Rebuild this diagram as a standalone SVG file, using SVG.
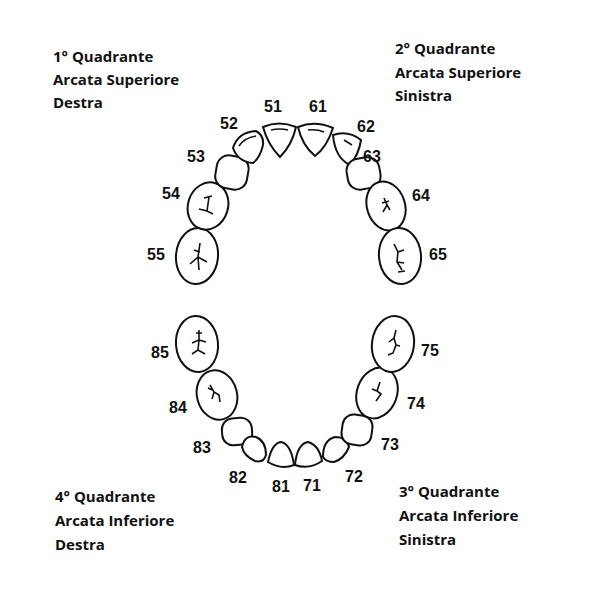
<svg xmlns="http://www.w3.org/2000/svg" width="600" height="600" viewBox="0 0 600 600">
<style>
.t{fill:#fff;stroke:#111;stroke-width:2}
.f{fill:none;stroke:#111;stroke-width:1.6}
.n{font-family:"Liberation Sans",Arial,sans-serif;font-weight:bold;font-size:16px;fill:#111;text-anchor:middle}
.q{font-family:"Open Sans","Liberation Sans",sans-serif;font-weight:bold;font-size:15px;fill:#111}
</style>
<rect width="600" height="600" fill="#fff"/>
<g id="upper">
<g id="t55"><ellipse class="t" cx="197" cy="256" rx="21" ry="28" transform="rotate(5 197 256)"/><path class="f" d="M200 243 L198 257 L190 264 M198 257 L207 262 M198 257 L199 270 M194 250 L200 252"/></g>
<g id="t54"><ellipse class="t" cx="208" cy="206" rx="20" ry="24" transform="rotate(18 208 206)"/><path class="f" d="M204 198 L212 196 M209 197 L207 211 M199 209 L207 211 L213 214"/></g>
<g id="t53"><rect class="t" x="216" y="156" width="32" height="33" rx="12" transform="rotate(10 232 172)"/></g>
<g id="t52"><path class="t" d="M233 148 Q238 132 256 131 Q264 135 263 145 Q260 158 253 163 Q238 162 233 148 Z"/><path class="f" d="M239 146 Q244 138 256 136"/></g>
<g id="t51"><path class="t" d="M263 127 Q279 120 296 127 Q292 145 280 157 Q268 145 263 127 Z"/><path class="f" d="M271 130 Q280 128 288 130"/></g>
<g id="t61"><path class="t" d="M298 127 Q315 120 333 128 Q327 147 315 156 Q302 145 298 127 Z"/><path class="f" d="M308 130 Q317 129 324 132"/></g>
<g id="t62"><path class="t" d="M333 135 Q348 130 361 140 Q359 154 350 165 Q335 158 333 135 Z"/><path class="f" d="M344 140 L352 145"/></g>
<g id="t63"><rect class="t" x="347" y="158" width="33" height="31" rx="12" transform="rotate(-10 363 173)"/></g>
<g id="t64"><ellipse class="t" cx="386" cy="206" rx="19" ry="25" transform="rotate(-18 386 206)"/><path class="f" d="M384 198 L387 205 L383 212 M387 205 L390 210 M382 203 L389 201"/></g>
<g id="t65"><ellipse class="t" cx="400" cy="256" rx="21" ry="28" transform="rotate(-5 400 256)"/><path class="f" d="M394 244 L398 252 L397 262 L402 270 M398 252 L404 250 M397 262 L404 263 M398 272 L405 271"/></g>
</g>
<g id="lower">
<g id="t85"><ellipse class="t" cx="197" cy="344" rx="21" ry="28" transform="rotate(-5 197 344)"/><path class="f" d="M199 330 L199 340 L192 343 M199 340 L206 342 M196 333 L202 333 M199 340 L198 350 L192 354 M198 350 L205 354"/></g>
<g id="t84"><ellipse class="t" cx="217" cy="395" rx="20" ry="25" transform="rotate(-15 217 395)"/><path class="f" d="M210 385 L214 392 L212 399 M214 392 L219 395 L220 402 M208 388 L212 390"/></g>
<g id="t83"><rect class="t" x="222" y="418" width="30" height="27" rx="11" transform="rotate(-5 237 431)"/></g>
<g id="t82"><path class="t" d="M242 447 Q245 434 256 437 Q266 441 266 455 Q264 463 255 461 Q244 456 242 447 Z"/></g>
<g id="t81"><path class="t" d="M268 462 Q272 443 281 442 Q291 444 294 465 Q281 470 268 462 Z"/></g>
<g id="t71"><path class="t" d="M295 465 Q297 444 308 442 Q319 445 322 461 Q309 470 295 465 Z"/></g>
<g id="t72"><path class="t" d="M323 457 Q323 440 335 437 Q347 437 349 447 Q344 459 334 462 Q326 462 323 457 Z"/></g>
<g id="t73"><rect class="t" x="342" y="415" width="30" height="30" rx="11" transform="rotate(8 357 430)"/></g>
<g id="t74"><ellipse class="t" cx="377" cy="393" rx="20" ry="26" transform="rotate(20 377 393)"/><path class="f" d="M380 382 L377 391 L381 394 L376 401 M372 389 L377 391"/></g>
<g id="t75"><ellipse class="t" cx="393" cy="344" rx="21" ry="28" transform="rotate(8 393 344)"/><path class="f" d="M396 330 L394 338 L389 342 M394 338 L396 345 L393 353 L388 355 M396 345 L400 346"/></g>
</g>
<g id="numbers">
<text class="n" x="273" y="112">51</text><text class="n" x="318" y="112">61</text>
<text class="n" x="229" y="129">52</text><text class="n" x="366" y="132">62</text>
<text class="n" x="196" y="162">53</text><text class="n" x="372" y="162">63</text>
<text class="n" x="171" y="199">54</text><text class="n" x="421" y="201">64</text>
<text class="n" x="156" y="260">55</text><text class="n" x="438" y="260">65</text>
<text class="n" x="160" y="358">85</text><text class="n" x="430" y="356">75</text>
<text class="n" x="178" y="413">84</text><text class="n" x="416" y="409">74</text>
<text class="n" x="202" y="453">83</text><text class="n" x="390" y="450">73</text>
<text class="n" x="238" y="483">82</text><text class="n" x="354" y="482">72</text>
<text class="n" x="281" y="492">81</text><text class="n" x="312" y="491">71</text>
</g>
<g id="quadrants">
<text class="q" x="53" y="62">1° Quadrante</text><text class="q" x="53" y="85">Arcata Superiore</text><text class="q" x="53" y="108">Destra</text>
<text class="q" x="395" y="54">2° Quadrante</text><text class="q" x="395" y="78">Arcata Superiore</text><text class="q" x="395" y="101">Sinistra</text>
<text class="q" x="55" y="502">4° Quadrante</text><text class="q" x="55" y="526">Arcata Inferiore</text><text class="q" x="55" y="550">Destra</text>
<text class="q" x="399" y="497">3° Quadrante</text><text class="q" x="399" y="521">Arcata Inferiore</text><text class="q" x="399" y="545">Sinistra</text>
</g>
</svg>
